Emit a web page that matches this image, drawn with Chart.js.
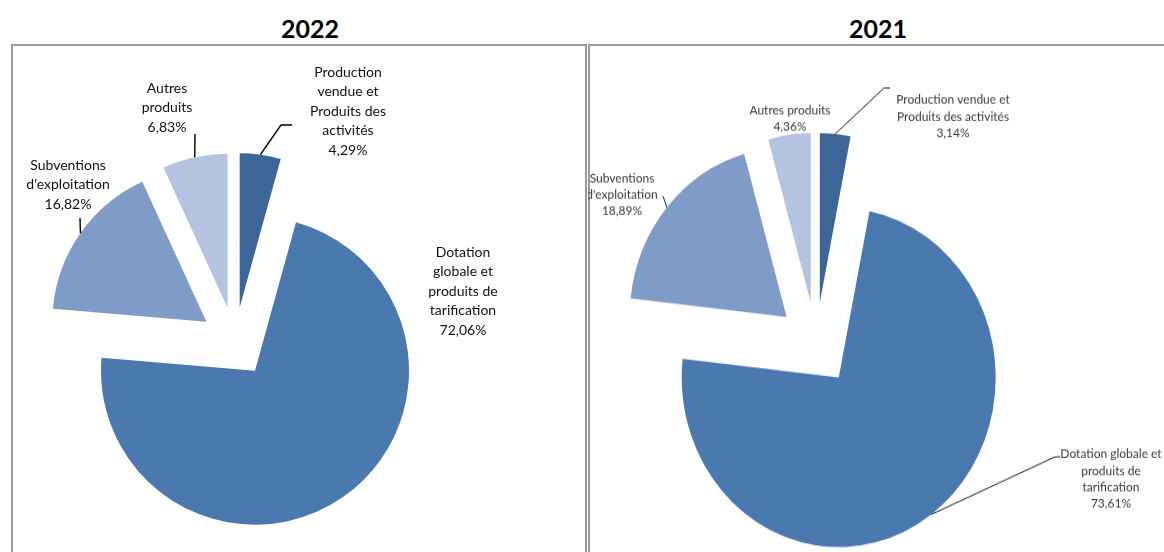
<!DOCTYPE html>
<html><head><meta charset="utf-8">
<script src="https://cdn.jsdelivr.net/npm/chart.js@4.4.1/dist/chart.umd.min.js"></script>
<style>
html,body{margin:0;padding:0;background:#fff;}
body{width:1164px;height:552px;position:relative;overflow:hidden;font-family:Lato,sans-serif;}
.title{position:absolute;top:11px;font:700 25px Lato,sans-serif;color:#000;text-align:center;width:200px;line-height:34px;}
.frame{position:absolute;border:2px solid #9a9a9a;box-sizing:border-box;}
canvas{position:absolute;top:0;}
</style></head><body>
<div class="frame" style="left:11px;top:44px;width:576px;height:530px;"></div>
<div class="frame" style="left:588px;top:44px;width:600px;height:530px;"></div>
<div class="title" style="left:210px;">2022</div>
<div class="title" style="left:778px;">2021</div>
<canvas id="c2022" width="587" height="552" style="left:0"></canvas>
<canvas id="c2021" width="576" height="512" style="left:588px;transform:scaleY(1.08);transform-origin:0 0"></canvas>
<script>
// ---- data ----
const categories = [
  "Production vendue et Produits des activités",
  "Dotation globale et produits de tarification",
  "Subventions d'exploitation",
  "Autres produits"
];
const values2022 = [4.29, 72.06, 16.82, 6.83];
const values2021 = [3.14, 73.61, 18.89, 4.36];
const sliceColors = ['#3d6598', '#4a79b0', '#7f9cc8', '#b4c3df'];

// ---- label layout (line wrapping of category names per chart) ----
const lines2022 = [["Production","vendue et","Produits des","activités"],["Dotation","globale et","produits de","tarification"],["Subventions","d'exploitation"],["Autres","produits"]];
const lines2021 = [["Production vendue et","Produits des activités"],["Dotation globale et","produits de","tarification"],["Subventions","d'exploitation"],["Autres produits"]];

const cfg2022 = {
  radius: 154, explode: 35, font: '14px Lato', color: '#111', lineColor: '#000', lineWidth: 1.4, lineHeight: 19.6,
  padding: {left: 0, right: 117, top: 132, bottom: 0},
  labels: [
    {x: 348, y: 72, leader: [[281,125],[292,125]]},
    {x: 463, y: 252, leader: null},
    {x: 68, y: 165, leader: [[80,218]]},
    {x: 167, y: 88, leader: [[195,134]]}
  ]
};
const cfg2021 = {
  radius: 157, explode: 38.5, font: '12px Lato', color: '#3a3a3a', lineColor: '#222', lineWidth: 1, lineHeight: 15.3,
  padding: {left: 0, right: 120, top: 125, bottom: 0},
  labels: [
    {x: 365, y: 92.6, leader: [[296,81.5],[302,81.5]]},
    {x: 523, y: 420.4, leader: [[467,423],[472,423]]},
    {x: 34, y: 164.8, leader: [[75,181.5]]},
    {x: 202, y: 101.9, leader: null}
  ]
};

function fmtPct(v){ return v.toFixed(2).replace('.', ',') + '%'; }

function slicePlugin(cfg, lines){
  return {
    id: 'sliceLabels',
    beforeDatasetsDraw(chart){
      // explode every slice along its mid angle (Excel-style)
      const a = chart.chartArea;
      const cx = (a.left + a.right) / 2, cy = (a.top + a.bottom) / 2;
      chart.getDatasetMeta(0).data.forEach(arc => {
        const mid = (arc.startAngle + arc.endAngle) / 2;
        arc.x = cx + Math.cos(mid) * cfg.explode;
        arc.y = cy + Math.sin(mid) * cfg.explode;
        arc.outerRadius = cfg.radius;
      });
    },
    afterDatasetsDraw(chart){
      const ctx = chart.ctx;
      const meta = chart.getDatasetMeta(0);
      const vals = chart.data.datasets[0].data;
      ctx.save();
      ctx.font = cfg.font;
      ctx.fillStyle = cfg.color;
      ctx.textAlign = 'center';
      ctx.textBaseline = 'middle';
      meta.data.forEach((arc, i) => {
        const L = cfg.labels[i];
        const txt = lines[i].concat([fmtPct(vals[i])]);
        txt.forEach((s, j) => ctx.fillText(s, L.x, L.y + j * cfg.lineHeight));
        if (L.leader){
          const mid = (arc.startAngle + arc.endAngle) / 2;
          const sx = arc.x + Math.cos(mid) * cfg.radius;
          const sy = arc.y + Math.sin(mid) * cfg.radius;
          ctx.beginPath();
          ctx.strokeStyle = cfg.lineColor;
          ctx.lineWidth = cfg.lineWidth;
          ctx.moveTo(sx, sy);
          L.leader.forEach(p => ctx.lineTo(p[0], p[1]));
          ctx.stroke();
        }
      });
      ctx.restore();
    }
  };
}

function makePie(id, values, cfg, lines){
  return new Chart(document.getElementById(id), {
    type: 'pie',
    data: {
      labels: categories,
      datasets: [{
        data: values,
        backgroundColor: sliceColors,
        borderWidth: 0,
        offset: 0,
        hoverOffset: 0,
        radius: cfg.radius
      }]
    },
    options: {
      responsive: false,
      animation: false,
      events: [],
      radius: cfg.radius,
      layout: {padding: cfg.padding},
      plugins: {legend: {display: false}, tooltip: {enabled: false}}
    },
    plugins: [slicePlugin(cfg, lines)]
  });
}

function start(){
  makePie('c2022', values2022, cfg2022, lines2022);
  makePie('c2021', values2021, cfg2021, lines2021);
}
if (document.fonts && document.fonts.load){
  Promise.all([document.fonts.load('14px Lato'), document.fonts.load('700 25px Lato')]).then(start, start);
} else { start(); }
</script>
</body></html>
